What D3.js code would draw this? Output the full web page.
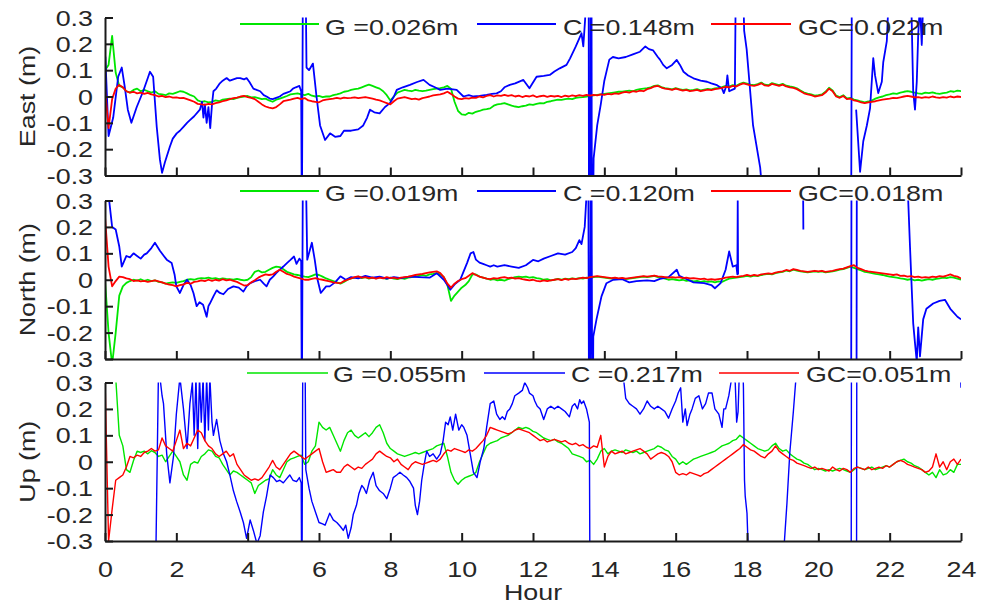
<!DOCTYPE html>
<html><head><meta charset="utf-8">
<script src="https://cdn.jsdelivr.net/npm/d3@7"></script>
<style>
body{margin:0;background:#fff}
svg{display:block}
text{font-family:"Liberation Sans",Arial,sans-serif;fill:#262626}
</style>
</head><body>
<svg id="c" width="987" height="606"></svg>
<script>
// ---------------- DATA ----------------
const sampleStep = 0.1; // hours between samples of G and GC series
const xTickValues = [0,2,4,6,8,10,12,14,16,18,20,22,24];
const xTickLabels = ["0","2","4","6","8","10","12","14","16","18","20","22","24"];
const yTickValues = [-0.3,-0.2,-0.1,0,0.1,0.2,0.3];
const yTickLabels = ["-0.3","-0.2","-0.1","0","0.1","0.2","0.3"];
const panelNames = ["East (m)","North (m)","Up (m)"];
const legendEast = ["G =0.026m","C =0.148m","GC=0.022m"];
const legendNorth = ["G =0.019m","C =0.120m","GC=0.018m"];
const legendUp = ["G =0.055m","C =0.217m","GC=0.051m"];

const eastG = [
0.100,0.120,0.230,0.090,0.040,0.035,0.020,0.015,0.025,0.030,
0.020,0.025,0.020,0.015,0.020,0.010,0.008,0.005,0.012,0.010,
0.015,0.020,0.018,0.012,0.005,0.000,-0.015,-0.020,-0.018,-0.022,
-0.020,-0.015,-0.018,-0.012,-0.010,-0.008,-0.010,-0.005,-0.002,0.000,
0.002,-0.003,-0.002,-0.006,-0.010,-0.008,-0.015,-0.020,-0.012,-0.008,
-0.003,0.002,0.008,0.010,0.012,0.008,0.005,0.010,0.003,0.000,
0.002,-0.002,0.000,0.000,0.005,0.008,0.012,0.018,0.020,0.025,
0.028,0.030,0.035,0.040,0.045,0.040,0.035,0.030,0.020,0.005,
-0.015,0.000,0.015,0.020,0.025,0.022,0.020,0.025,0.022,0.020,
0.022,0.025,0.028,0.030,0.032,0.035,0.040,0.030,-0.020,-0.055,
-0.068,-0.070,-0.062,-0.065,-0.058,-0.055,-0.050,-0.048,-0.045,-0.035,
-0.030,-0.028,-0.025,-0.030,-0.035,-0.038,-0.040,-0.037,-0.035,-0.030,
-0.032,-0.028,-0.025,-0.026,-0.020,-0.018,-0.015,-0.012,-0.013,-0.010,
-0.008,-0.010,-0.005,-0.003,-0.002,0.000,0.002,0.004,0.006,0.008,
0.010,0.012,0.014,0.016,0.018,0.018,0.020,0.022,0.020,0.025,
0.028,0.030,0.032,0.035,0.040,0.042,0.036,0.032,0.030,0.027,
0.032,0.028,0.025,0.027,0.023,0.025,0.028,0.023,0.026,0.029,
0.027,0.031,0.033,0.036,0.040,0.038,0.043,0.041,0.048,0.053,
0.049,0.045,0.043,0.047,0.053,0.045,0.043,0.051,0.047,0.043,
0.048,0.041,0.038,0.036,0.031,0.023,0.015,0.011,0.008,0.003,
0.005,0.008,0.018,0.033,0.023,0.003,-0.002,0.005,-0.007,-0.005,
-0.012,-0.015,-0.019,-0.022,-0.019,-0.015,-0.008,-0.003,0.000,0.005,
0.008,0.012,0.010,0.015,0.018,0.020,0.018,0.015,0.012,0.010,
0.015,0.013,0.016,0.012,0.010,0.013,0.015,0.020,0.018,0.022,
0.020];

const eastGC = [
0.030,-0.120,-0.010,0.030,0.044,0.035,0.020,0.015,0.018,0.012,
0.015,0.010,0.014,0.008,0.005,0.000,0.002,-0.002,0.000,-0.004,
-0.003,-0.006,-0.005,-0.010,-0.015,-0.020,-0.028,-0.030,-0.032,-0.028,
-0.030,-0.025,-0.022,-0.018,-0.015,-0.010,-0.006,-0.004,0.000,0.002,
-0.002,-0.005,-0.010,-0.020,-0.030,-0.038,-0.042,-0.045,-0.040,-0.030,
-0.018,-0.015,-0.012,-0.008,-0.005,-0.010,-0.006,-0.015,-0.018,-0.020,
-0.022,-0.015,-0.012,-0.010,-0.008,-0.005,-0.008,-0.004,-0.006,-0.005,
-0.003,-0.006,-0.004,-0.002,-0.005,-0.008,-0.012,-0.015,-0.020,-0.025,
-0.030,-0.018,-0.008,-0.005,-0.002,-0.006,-0.010,-0.008,-0.012,-0.006,
-0.003,0.000,0.004,0.006,0.008,0.012,0.018,0.010,0.000,-0.008,
-0.010,-0.006,-0.008,-0.004,-0.005,0.000,-0.003,0.002,0.005,0.000,
0.004,0.002,0.006,0.002,0.005,0.000,0.003,-0.002,0.002,0.000,
0.004,-0.002,0.001,0.003,-0.001,0.002,0.000,0.002,-0.002,0.003,
0.000,0.004,0.001,0.005,0.002,0.006,0.003,0.006,0.004,0.008,
0.006,0.010,0.008,0.012,0.010,0.015,0.018,0.015,0.020,0.018,
0.022,0.020,0.028,0.032,0.038,0.040,0.034,0.030,0.028,0.025,
0.030,0.026,0.022,0.025,0.020,0.022,0.025,0.020,0.023,0.026,
0.024,0.028,0.030,0.033,0.037,0.035,0.040,0.038,0.045,0.050,
0.046,0.042,0.040,0.044,0.050,0.042,0.040,0.048,0.044,0.040,
0.045,0.038,0.035,0.033,0.028,0.020,0.012,0.008,0.005,0.000,
0.002,0.005,0.015,0.030,0.020,0.000,-0.005,0.002,-0.010,-0.008,
-0.015,-0.018,-0.022,-0.025,-0.022,-0.020,-0.018,-0.015,-0.012,-0.010,
-0.008,-0.005,-0.006,-0.003,0.000,0.002,0.000,-0.003,-0.002,-0.005,
-0.002,-0.004,0.000,-0.003,-0.005,-0.002,-0.004,0.000,-0.003,0.000,
-0.002];

const northG = [
0.000,-0.200,-0.320,-0.200,-0.060,-0.025,-0.012,-0.005,0.000,-0.003,
0.002,-0.004,0.000,-0.005,-0.002,-0.008,-0.010,-0.015,-0.012,-0.010,
-0.012,-0.008,-0.005,0.000,0.002,0.000,0.004,0.006,0.005,0.008,
0.004,0.006,0.002,0.005,0.003,0.002,0.000,0.003,0.000,-0.002,
0.000,0.010,0.030,0.035,0.028,0.030,0.038,0.045,0.050,0.048,
0.040,0.030,0.025,0.020,0.018,0.015,0.012,0.010,0.015,0.020,
0.018,0.012,0.005,0.000,-0.005,-0.010,-0.015,-0.008,0.000,0.005,
0.008,0.012,0.006,0.010,0.004,0.008,0.005,0.010,0.006,0.003,
0.008,0.004,0.002,0.006,0.003,0.008,0.010,0.012,0.015,0.018,
0.015,0.020,0.022,0.025,0.020,0.010,-0.020,-0.080,-0.060,-0.045,
-0.030,-0.020,-0.005,0.020,0.020,0.012,0.008,0.004,0.000,0.002,
-0.002,0.000,-0.003,0.002,0.006,0.010,0.012,0.010,0.012,0.008,
0.010,0.006,0.004,0.000,0.002,-0.002,0.000,0.003,0.000,0.004,
0.002,0.005,0.003,0.006,0.004,0.008,0.006,0.010,0.012,0.010,
0.008,0.006,0.004,0.006,0.003,0.005,0.002,0.004,0.006,0.008,
0.010,0.012,0.010,0.012,0.015,0.010,0.008,0.004,0.000,0.002,
0.000,-0.002,0.000,-0.004,-0.002,-0.006,-0.004,-0.008,-0.005,-0.008,
-0.006,-0.010,-0.006,-0.008,-0.002,0.004,0.006,0.008,0.010,0.012,
0.015,0.012,0.016,0.014,0.018,0.020,0.022,0.020,0.025,0.028,
0.030,0.035,0.032,0.038,0.035,0.032,0.030,0.028,0.030,0.032,
0.030,0.032,0.028,0.030,0.032,0.035,0.038,0.040,0.045,0.050,
0.045,0.040,0.035,0.030,0.028,0.025,0.022,0.020,0.018,0.015,
0.012,0.010,0.008,0.005,0.003,0.000,0.002,-0.002,0.000,-0.003,
0.000,0.002,0.000,0.003,0.005,0.008,0.006,0.010,0.008,0.004,
0.000];

const northGC = [
0.240,0.050,-0.025,-0.005,0.012,0.010,0.005,0.002,-0.005,-0.002,
-0.006,-0.004,-0.008,-0.005,-0.002,-0.006,-0.010,-0.015,-0.018,-0.020,
-0.025,-0.020,-0.018,-0.012,-0.015,-0.008,-0.006,-0.002,-0.005,0.000,
-0.004,0.000,-0.003,0.002,-0.002,0.000,-0.004,-0.008,-0.015,-0.022,
-0.020,-0.010,-0.002,0.008,0.015,0.020,0.018,0.020,0.030,0.038,
0.030,0.022,0.018,0.012,0.008,0.004,0.000,0.000,0.003,0.006,
0.002,0.000,-0.003,-0.006,-0.010,-0.012,-0.013,-0.005,0.000,0.005,
0.010,0.013,0.008,0.010,0.006,0.008,0.004,0.008,0.005,0.010,
0.006,0.008,0.004,0.008,0.010,0.012,0.015,0.018,0.020,0.022,
0.025,0.028,0.030,0.032,0.025,0.010,-0.015,-0.030,-0.015,-0.005,
0.002,0.006,0.015,0.025,0.018,0.012,0.008,0.004,0.002,0.006,
0.004,0.008,0.010,0.006,0.008,0.004,0.006,0.002,0.000,-0.002,
0.000,-0.004,-0.006,-0.002,-0.005,-0.002,0.000,0.002,-0.001,0.003,
0.000,0.004,0.002,0.005,0.008,0.006,0.010,0.012,0.014,0.012,
0.010,0.008,0.006,0.008,0.005,0.007,0.004,0.006,0.008,0.010,
0.012,0.014,0.012,0.014,0.016,0.013,0.012,0.010,0.008,0.010,
0.008,0.010,0.006,0.008,0.005,0.006,0.004,0.002,0.004,0.000,
0.002,0.000,0.002,0.004,0.008,0.010,0.012,0.010,0.013,0.015,
0.018,0.015,0.018,0.016,0.020,0.022,0.024,0.022,0.027,0.030,
0.032,0.037,0.034,0.040,0.037,0.034,0.032,0.030,0.032,0.034,
0.032,0.034,0.030,0.032,0.034,0.037,0.040,0.042,0.047,0.052,
0.055,0.045,0.040,0.035,0.032,0.030,0.028,0.026,0.024,0.022,
0.020,0.018,0.020,0.015,0.016,0.012,0.014,0.010,0.012,0.008,
0.010,0.008,0.012,0.010,0.014,0.012,0.016,0.020,0.015,0.012,
0.005];

const upG = [
0.600,0.600,0.500,0.320,0.100,0.060,-0.030,-0.040,0.005,0.040,
0.035,0.040,0.030,0.042,0.035,0.020,0.025,0.000,0.020,0.040,
0.020,0.000,-0.050,-0.070,-0.010,0.000,-0.005,0.020,0.030,0.045,
0.040,0.020,0.015,-0.010,-0.030,-0.050,-0.035,-0.040,-0.050,-0.060,
-0.070,-0.080,-0.120,-0.090,-0.080,-0.070,-0.065,-0.030,-0.050,-0.060,
-0.030,0.000,0.010,0.015,0.020,0.025,-0.010,0.000,0.040,0.060,
0.150,0.130,0.120,0.130,0.100,0.070,0.040,0.080,0.110,0.120,
0.100,0.090,0.100,0.110,0.095,0.110,0.130,0.140,0.110,0.070,
0.050,0.040,0.030,0.025,0.020,0.025,0.030,0.035,0.030,0.035,
0.040,0.045,0.050,0.060,0.065,0.070,0.020,-0.040,-0.070,-0.085,
-0.070,-0.060,-0.055,-0.050,-0.040,0.000,0.030,0.060,0.070,0.075,
0.080,0.090,0.095,0.100,0.110,0.120,0.130,0.125,0.130,0.125,
0.115,0.110,0.100,0.090,0.085,0.080,0.085,0.075,0.070,0.060,
0.050,0.030,0.025,0.020,0.015,0.000,0.005,-0.010,0.010,0.040,
0.050,0.030,0.040,0.045,0.040,0.035,0.045,0.040,0.035,0.040,
0.030,0.035,0.040,0.045,0.050,0.060,0.055,0.045,0.040,0.020,
0.010,-0.010,0.000,-0.010,0.000,0.010,0.015,0.020,0.025,0.030,
0.035,0.040,0.050,0.060,0.065,0.070,0.080,0.085,0.100,0.090,
0.080,0.070,0.060,0.050,0.045,0.040,0.045,0.060,0.070,0.050,
0.040,0.045,0.030,0.020,0.010,0.005,-0.005,-0.010,-0.020,-0.030,
-0.025,-0.030,-0.035,-0.030,-0.035,-0.030,-0.025,-0.030,-0.035,-0.040,
-0.030,-0.020,-0.025,-0.030,-0.025,-0.020,-0.030,-0.025,-0.020,-0.015,
-0.020,-0.010,0.000,0.005,0.010,0.000,-0.005,-0.015,-0.020,-0.030,
-0.040,-0.050,-0.040,-0.060,-0.030,-0.050,-0.045,-0.030,-0.040,-0.010,
-0.010];

const upGC = [
0.320,-0.300,-0.180,-0.070,-0.060,-0.050,-0.020,0.020,0.015,0.025,
0.020,0.035,0.040,0.050,0.040,0.045,0.090,0.060,0.050,0.040,
0.080,0.120,0.050,0.070,0.060,0.090,0.120,0.110,0.080,0.060,
0.050,0.030,0.020,0.030,0.040,0.020,0.030,-0.010,-0.030,-0.050,
-0.060,-0.070,-0.065,-0.070,-0.060,-0.040,-0.020,0.005,-0.020,-0.030,
-0.010,0.010,0.030,0.040,0.030,0.020,0.010,0.020,0.030,0.040,
0.050,0.000,-0.040,-0.035,-0.030,-0.040,-0.040,-0.020,-0.010,-0.020,
-0.030,-0.020,-0.025,-0.010,0.000,0.010,0.030,0.040,0.030,0.020,
0.015,0.000,0.010,-0.010,-0.020,-0.030,-0.010,0.000,-0.005,-0.010,
-0.005,0.000,0.005,0.000,0.010,0.030,0.045,0.040,0.050,0.045,
0.040,0.035,0.045,0.040,0.050,0.065,0.080,0.100,0.130,0.125,
0.120,0.115,0.110,0.105,0.110,0.120,0.125,0.120,0.115,0.110,
0.100,0.090,0.080,0.085,0.075,0.080,0.085,0.080,0.075,0.080,
0.070,0.065,0.070,0.060,0.065,0.055,0.050,0.060,0.055,0.100,
-0.020,0.020,0.040,0.030,0.035,0.040,0.030,0.035,0.040,0.045,
0.050,0.040,0.030,0.010,0.020,0.030,0.035,0.030,0.020,0.000,
-0.040,-0.050,-0.045,-0.050,-0.040,-0.045,-0.050,-0.055,-0.045,-0.040,
-0.030,-0.020,-0.010,0.000,0.010,0.020,0.030,0.040,0.050,0.065,
0.055,0.045,0.040,0.030,0.020,0.015,0.030,0.040,0.060,0.040,
0.030,0.020,0.010,0.005,-0.005,-0.010,-0.015,-0.020,-0.025,-0.020,
-0.030,-0.025,-0.030,-0.035,-0.020,-0.030,-0.035,-0.025,-0.030,-0.040,
-0.025,-0.020,-0.025,-0.030,-0.020,-0.030,-0.025,-0.020,-0.025,-0.015,
-0.020,-0.010,0.000,0.005,0.000,-0.010,-0.015,-0.020,-0.025,-0.030,
-0.040,-0.035,-0.020,0.030,-0.020,0.000,-0.030,0.000,0.010,-0.010,
0.010];

// C series: [hour, value] pairs, null = data gap
const eastC = [
[0,-0.5],[0.01,0.15],[0.1,-0.15],[0.23,-0.08],[0.37,0.075],[0.47,0.11],[0.55,0.04],[0.64,-0.05],[0.74,-0.1],[0.89,-0.04],
[1.07,0.02],[1.2,0.07],[1.26,0.094],[1.35,0.075],[1.45,-0.115],[1.54,-0.24],[1.6,-0.29],[1.68,-0.25],[1.82,-0.19],[1.9,-0.16],
[2.01,-0.14],[2.1,-0.13],[2.2,-0.115],[2.3,-0.1],[2.38,-0.09],[2.5,-0.075],[2.66,-0.05],[2.72,-0.02],[2.76,-0.08],[2.8,-0.03],
[2.85,-0.1],[2.9,-0.04],[2.95,-0.12],[3.0,-0.03],[3.04,0.02],[3.12,0.03],[3.22,0.05],[3.3,0.06],[3.41,0.07],[3.5,0.06],
[3.6,0.065],[3.7,0.07],[3.79,0.07],[3.9,0.065],[3.97,0.07],[4.05,0.055],[4.16,0.03],[4.25,0.025],[4.35,0.02],[4.45,0.005],
[4.53,0.0],[4.62,-0.008],[4.7,-0.01],[4.8,-0.005],[4.9,0.0],[5.0,0.01],[5.1,0.015],[5.2,0.02],[5.27,0.03],[5.35,0.035],
[5.45,0.04],[5.5,0.02],[5.52,-0.5],[5.55,0.5],[5.62,0.5],[5.65,0.11],[5.72,0.1],[5.83,0.125],[5.93,0.0],[6.03,-0.11],
[6.17,-0.165],[6.31,-0.14],[6.45,-0.153],[6.6,-0.15],[6.7,-0.13],[6.9,-0.13],[7.1,-0.125],[7.24,-0.11],[7.35,-0.08],[7.43,-0.05],
[7.55,-0.06],[7.7,-0.064],[7.85,-0.04],[7.99,-0.025],[8.1,0.0],[8.18,0.025],[8.35,0.035],[8.55,0.044],[8.75,0.055],[8.93,0.063],
[9.1,0.044],[9.25,0.035],[9.4,0.025],[9.6,0.03],[9.86,0.025],[10.05,0.0],[10.2,0.005],[10.33,0.0],[10.5,0.002],[10.7,0.006],
[10.85,0.01],[10.98,0.012],[11.1,0.02],[11.2,0.035],[11.35,0.044],[11.5,0.05],[11.73,0.063],[11.9,0.031],[12.1,0.075],[12.3,0.078],
[12.47,0.082],[12.6,0.095],[12.75,0.107],[12.94,0.12],[13.04,0.145],[13.2,0.19],[13.36,0.24],[13.41,0.19],[13.46,0.29],[13.5,0.4],
[13.56,0.5],[13.57,-0.5],[13.61,-0.5],[13.62,0.5],[13.64,0.5],[13.65,-0.5],[13.68,-0.5],[13.7,-0.235],[13.8,-0.11],[13.9,-0.03],
[14.0,0.06],[14.07,0.1],[14.14,0.14],[14.24,0.15],[14.4,0.145],[14.6,0.15],[14.8,0.16],[15.0,0.17],[15.15,0.19],[15.25,0.18],
[15.37,0.175],[15.5,0.15],[15.56,0.14],[15.65,0.12],[15.75,0.107],[15.9,0.12],[16.03,0.139],[16.12,0.12],[16.22,0.094],[16.35,0.08],
[16.5,0.069],[16.7,0.06],[16.88,0.056],[17.0,0.05],[17.16,0.043],[17.3,0.03],[17.35,0.013],[17.42,0.04],[17.45,0.08],[17.5,0.02],
[17.58,0.025],[17.66,0.03],[17.69,0.5],[17.88,0.5],[17.92,0.25],[17.99,0.18],[18.17,-0.11],[18.37,-0.27],[18.45,-0.4],null,
[20.92,-0.5],[20.94,0.5],null,
[21.06,-0.05],[21.17,-0.286],[21.26,-0.17],[21.36,-0.11],[21.45,-0.045],[21.54,0.146],[21.59,0.08],[21.68,0.013],[21.78,0.056],[21.82,0.13],
[21.92,0.21],[21.98,0.4],null,
[22.6,0.4],[22.66,0.018],[22.71,-0.05],[22.76,0.056],[22.8,0.234],[22.85,0.35],[22.9,0.196],[22.95,0.4],null
];

const northC = [
[0,0.35],[0.1,0.32],[0.2,0.2],[0.3,0.19],[0.4,0.126],[0.47,0.05],[0.6,0.09],[0.7,0.085],[0.8,0.1],[0.9,0.09],
[1.0,0.08],[1.1,0.095],[1.17,0.1],[1.3,0.12],[1.4,0.14],[1.47,0.125],[1.54,0.11],[1.65,0.09],[1.73,0.076],[1.87,0.063],
[1.95,0.02],[2.0,-0.025],[2.1,-0.05],[2.2,-0.02],[2.3,0.0],[2.4,-0.02],[2.48,-0.05],[2.57,-0.1],[2.65,-0.085],[2.75,-0.095],
[2.85,-0.14],[2.9,-0.1],[2.94,-0.09],[3.05,-0.06],[3.13,-0.04],[3.22,-0.05],[3.32,-0.055],[3.45,-0.035],[3.6,-0.025],[3.75,-0.03],
[3.88,-0.045],[3.97,-0.025],[4.07,-0.013],[4.2,-0.005],[4.35,0.0],[4.45,-0.015],[4.53,-0.025],[4.62,0.0],[4.72,0.013],[4.8,0.025],
[4.9,0.038],[5.0,0.05],[5.1,0.063],[5.2,0.075],[5.3,0.088],[5.37,0.06],[5.45,0.08],[5.5,0.07],[5.52,-0.5],[5.55,0.5],
[5.62,0.5],[5.67,0.076],[5.8,0.14],[5.88,0.076],[5.96,0.0],[6.05,-0.05],[6.2,-0.025],[6.3,-0.025],[6.45,-0.01],[6.6,0.013],
[6.75,0.0],[6.9,0.01],[7.1,0.005],[7.3,0.015],[7.5,0.008],[7.7,0.012],[7.9,0.004],[8.1,0.01],[8.3,0.006],[8.55,0.012],
[8.8,0.01],[9.1,0.008],[9.3,0.025],[9.5,0.0],[9.6,-0.02],[9.68,-0.038],[9.82,-0.015],[9.96,0.0],[10.05,0.03],[10.15,0.063],
[10.25,0.1],[10.33,0.105],[10.4,0.076],[10.5,0.065],[10.6,0.06],[10.7,0.055],[10.8,0.05],[10.9,0.055],[11.0,0.05],[11.2,0.055],
[11.4,0.05],[11.6,0.045],[11.8,0.055],[12.0,0.075],[12.15,0.07],[12.3,0.08],[12.5,0.09],[12.7,0.1],[12.9,0.095],[13.1,0.105],
[13.2,0.12],[13.3,0.15],[13.36,0.135],[13.45,0.2],[13.5,0.32],[13.52,0.5],[13.55,0.5],[13.57,-0.5],[13.6,-0.5],[13.62,0.5],
[13.64,0.5],[13.66,-0.5],[13.68,-0.5],[13.69,-0.215],[13.78,-0.15],[13.92,-0.063],[14.06,-0.013],[14.25,0.0],[14.5,0.002],[14.7,-0.01],
[14.9,-0.005],[15.2,-0.002],[15.4,-0.005],[15.56,0.003],[15.8,0.01],[16.03,0.038],[16.1,0.015],[16.3,0.003],[16.5,-0.01],[16.8,-0.013],
[17.0,-0.02],[17.1,-0.032],[17.26,-0.013],[17.4,0.038],[17.5,0.107],[17.6,0.05],[17.7,0.055],[17.73,0.02],[17.74,0.3],[17.75,0.02],
null,[19.57,0.4],[19.58,0.19],null,[20.92,-0.5],[20.93,0.5],null,[21.07,-0.5],[21.08,0.5],null,
[22.5,0.5],[22.52,0.3],[22.57,0.126],[22.62,-0.038],[22.66,-0.165],[22.71,-0.24],[22.76,-0.31],[22.8,-0.18],[22.85,-0.29],[22.94,-0.15],
[23.03,-0.11],[23.22,-0.09],[23.4,-0.08],[23.55,-0.076],[23.7,-0.11],[23.9,-0.14],[24.0,-0.15]
];

const upC = [
[1.4,-0.6],[1.5,0.35],[1.54,0.32],[1.6,0.25],[1.64,0.22],[1.73,0.03],[1.82,-0.08],[1.92,0.02],[2.0,0.18],[2.1,0.32],
[2.2,0.2],[2.3,0.05],[2.38,0.22],[2.45,0.3],[2.5,0.1],[2.55,0.32],[2.6,0.05],[2.65,0.32],[2.7,0.15],[2.75,0.32],
[2.8,0.08],[2.85,0.32],[2.9,0.12],[2.94,0.32],[3.0,0.15],[3.04,0.1],[3.13,0.16],[3.22,0.08],[3.32,0.03],[3.41,0.0],
[3.5,-0.05],[3.6,-0.11],[3.69,-0.15],[3.79,-0.19],[3.88,-0.23],[3.97,-0.29],[4.07,-0.22],[4.16,-0.26],[4.26,-0.31],[4.35,-0.28],
[4.44,-0.19],[4.53,-0.13],[4.63,-0.05],[4.72,-0.06],[4.81,-0.075],[4.9,-0.07],[5.0,-0.08],[5.09,-0.065],[5.18,-0.05],[5.27,-0.07],
[5.37,-0.075],[5.45,-0.06],[5.5,-0.08],[5.52,-0.6],[5.55,0.6],[5.6,0.6],[5.63,-0.03],[5.72,-0.1],[5.8,-0.15],[5.9,-0.19],
[6.0,-0.23],[6.1,-0.235],[6.17,-0.24],[6.3,-0.195],[6.4,-0.22],[6.5,-0.23],[6.6,-0.245],[6.68,-0.26],[6.75,-0.24],[6.82,-0.29],
[6.9,-0.25],[6.96,-0.2],[7.05,-0.165],[7.12,-0.12],[7.2,-0.09],[7.26,-0.1],[7.33,-0.12],[7.42,-0.07],[7.52,-0.04],[7.6,-0.09],
[7.7,-0.11],[7.8,-0.12],[7.9,-0.14],[8.0,-0.1],[8.08,-0.06],[8.18,-0.05],[8.27,-0.04],[8.36,-0.05],[8.46,-0.06],[8.55,-0.075],
[8.65,-0.1],[8.7,-0.165],[8.76,-0.2],[8.82,-0.15],[8.88,-0.07],[8.95,-0.01],[9.02,0.04],[9.1,0.02],[9.2,0.03],[9.3,0.01],
[9.4,0.03],[9.48,0.08],[9.55,0.15],[9.62,0.14],[9.68,0.17],[9.75,0.12],[9.83,0.18],[9.92,0.12],[10.0,0.14],[10.06,0.13],
[10.15,0.1],[10.24,0.03],[10.33,-0.04],[10.43,-0.06],[10.52,0.0],[10.62,0.05],[10.7,0.13],[10.8,0.22],[10.9,0.23],[10.98,0.18],
[11.07,0.16],[11.14,0.17],[11.21,0.16],[11.28,0.19],[11.35,0.2],[11.42,0.22],[11.49,0.25],[11.6,0.26],[11.7,0.27],[11.77,0.3],
[11.85,0.28],[11.9,0.26],[12.0,0.25],[12.05,0.23],[12.12,0.21],[12.2,0.2],[12.3,0.16],[12.4,0.2],[12.5,0.21],[12.6,0.2],
[12.7,0.21],[12.8,0.2],[12.9,0.19],[13.02,0.17],[13.1,0.21],[13.17,0.22],[13.25,0.2],[13.31,0.235],[13.36,0.22],[13.42,0.23],
[13.5,0.2],[13.58,0.15],[13.6,-0.6],null,
[14.5,0.5],[14.55,0.3],[14.6,0.24],[14.7,0.22],[14.8,0.21],[14.9,0.2],[15.0,0.18],[15.1,0.2],[15.2,0.23],[15.3,0.21],
[15.4,0.2],[15.5,0.21],[15.6,0.2],[15.7,0.19],[15.8,0.165],[15.9,0.2],[16.0,0.23],[16.07,0.26],[16.14,0.28],[16.2,0.15],
[16.27,0.2],[16.32,0.137],[16.4,0.18],[16.46,0.2],[16.55,0.24],[16.65,0.25],[16.75,0.2],[16.84,0.22],[16.92,0.26],[17.02,0.26],
[17.1,0.2],[17.21,0.18],[17.3,0.13],[17.35,0.2],[17.4,0.2],[17.49,0.25],[17.55,0.3],[17.6,0.32],[17.67,0.3],[17.71,0.15],
[17.75,0.19],[17.8,0.4],[17.88,0.4],[17.9,0.28],[17.93,-0.07],[17.95,-0.13],[18.0,-0.195],[18.05,-0.4],null,
[19.0,-0.4],[19.12,-0.157],[19.2,0.034],[19.3,0.19],[19.42,0.4],null,
[20.92,-0.6],[20.93,0.6],null,[21.07,-0.6],[21.08,0.6],null,
[23.98,0.4],[24.0,0.28]
];

// ---------------- LAYOUT ----------------
const svg = d3.select("#c");
const x = d3.scaleLinear().domain([0, 24]).range([105, 961]);
const hours = eastG.map((_, i) => +(i * sampleStep).toFixed(2));
const colors = {G: "#00e600", C: "#0000ff", GC: "#ff0000"};
const FS = 22, SX = 1.22;

const panels = [
  {name: panelNames[0], top: 17.5, bottom: 175.5, G: eastG, C: eastC, GC: eastGC, leg: legendEast,
   lineY: 24, textY: 34.5, lines: [[240,319],[477,556],[711,791]], tx: [325,563,798], sw: 1.8},
  {name: panelNames[1], top: 200.5, bottom: 359, G: northG, C: northC, GC: northGC, leg: legendNorth,
   lineY: 191, textY: 200.5, lines: [[240,319],[477,556],[711,791]], tx: [325,563,798], sw: 1.8},
  {name: panelNames[2], top: 382.5, bottom: 541, G: upG, C: upC, GC: upGC, leg: legendUp,
   lineY: 373, textY: 381.5, lines: [[247,328],[484,565],[719,799]], tx: [333,571,806], sw: 1.4}
];

panels.forEach((p, pi) => {
  const y = d3.scaleLinear().domain([-0.3, 0.3]).range([p.bottom, p.top]);
  const clipId = "clip" + pi;
  svg.append("clipPath").attr("id", clipId).append("rect")
    .attr("x", x(0)).attr("y", p.top).attr("width", x(24) - x(0)).attr("height", p.bottom - p.top);
  const g = svg.append("g").attr("clip-path", `url(#${clipId})`);
  const line = d3.line().defined(d => d.v !== null).x(d => x(d.h)).y(d => y(d.v));
  const gridData = arr => arr.map((v, i) => ({h: hours[i], v: v}));
  const pairData = arr => arr.map(q => q ? {h: q[0], v: q[1]} : {h: 0, v: null});
  g.append("path").datum(gridData(p.G)).attr("d", line)
    .attr("fill", "none").attr("stroke", colors.G).attr("stroke-width", p.sw).attr("stroke-linejoin", "round");
  g.append("path").datum(pairData(p.C)).attr("d", line)
    .attr("fill", "none").attr("stroke", colors.C).attr("stroke-width", p.sw).attr("stroke-linejoin", "round");
  g.append("path").datum(gridData(p.GC)).attr("d", line)
    .attr("fill", "none").attr("stroke", colors.GC).attr("stroke-width", p.sw).attr("stroke-linejoin", "round");

  // axes
  const yAxis = d3.axisLeft(y).tickValues(yTickValues).tickSizeInner(-8).tickSizeOuter(0).tickPadding(0)
    .tickFormat((d, i) => yTickLabels[i]);
  const ya = svg.append("g").attr("transform", `translate(${x(0)},0)`).call(yAxis);
  const xAxis = d3.axisBottom(x).tickValues(xTickValues).tickSizeInner(-8).tickSizeOuter(0).tickPadding(0)
    .tickFormat((d, i) => pi === 2 ? xTickLabels[i] : "");
  const xa = svg.append("g").attr("transform", `translate(0,${p.bottom})`).call(xAxis);
  [ya, xa].forEach(a => {
    a.select(".domain").attr("stroke", "#1a1a1a").attr("stroke-width", 2);
    a.selectAll(".tick line").attr("stroke", "#1a1a1a").attr("stroke-width", 2);
    a.selectAll("text").attr("font-size", FS).attr("font-family", '"Liberation Sans",Arial,sans-serif').attr("fill", "#262626");
  });
  ya.selectAll(".tick text").attr("x", null).attr("dy", null)
    .attr("dominant-baseline", "central").attr("text-anchor", "end")
    .attr("transform", `translate(-12,0) scale(${SX},1)`);
  xa.selectAll(".tick text").attr("y", null).attr("dy", null).attr("text-anchor", "middle")
    .attr("transform", `translate(0,36) scale(${SX},1)`);

  // y label
  svg.append("text").attr("transform", `translate(27,${(p.top + p.bottom) / 2}) rotate(-90) scale(${SX},1)`)
    .attr("text-anchor", "middle").attr("dominant-baseline", "central").attr("font-size", FS).text(p.name);

  // legend
  ["G", "C", "GC"].forEach((k, i) => {
    svg.append("line").attr("x1", p.lines[i][0]).attr("x2", p.lines[i][1])
      .attr("y1", p.lineY).attr("y2", p.lineY).attr("stroke", colors[k]).attr("stroke-width", p.sw);
    svg.append("text").attr("transform", `translate(${p.tx[i]},${p.textY}) scale(${SX},1)`)
      .attr("font-size", FS).text(p.leg[i]);
  });
});

svg.append("text").attr("transform", `translate(${x(12)},600) scale(${SX},1)`)
  .attr("text-anchor", "middle").attr("font-size", FS).text("Hour");
</script>
</body></html>
